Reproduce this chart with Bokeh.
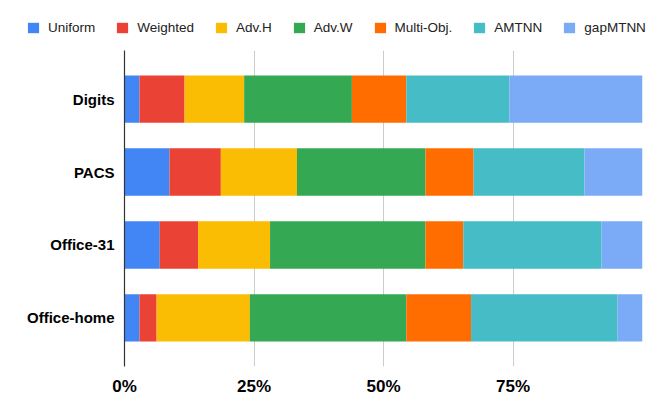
from bokeh.plotting import figure
from bokeh.models import ColumnDataSource, Range1d, Legend, LegendItem, FixedTicker
from bokeh.embed import file_html
from bokeh.resources import INLINE

categories = ["Digits", "PACS", "Office-31", "Office-home"]
series = ["Uniform", "Weighted", "Adv.H", "Adv.W", "Multi-Obj.", "AMTNN", "gapMTNN"]
colors = ["#4285F4", "#EA4335", "#FBBC04", "#34A853", "#FF6D01", "#46BDC6", "#7BAAF7"]

uniform = [2.9, 8.7, 6.8, 2.9]
weighted = [8.7, 9.9, 7.4, 3.3]
adv_h = [11.5, 14.7, 13.9, 18.0]
adv_w = [20.8, 24.8, 30.0, 30.2]
multi_obj = [10.5, 9.3, 7.3, 12.5]
amtnn = [19.9, 21.4, 26.7, 28.3]
gapmtnn = [25.7, 11.2, 7.9, 4.8]

x_ticks = [0, 25, 50, 75, 100]
x_tick_labels = ["0%", "25%", "50%", "75%", ""]

values = [uniform, weighted, adv_h, adv_w, multi_obj, amtnn, gapmtnn]
ypos = list(range(len(categories) - 1, -1, -1))
data = {"y": ypos}
for name, vals in zip(series, values):
    data[name] = vals
source = ColumnDataSource(data)

# legend strip (separate root so its frame spans the full width)
lg = figure(width=656, height=42, output_backend="svg", toolbar_location=None,
            x_range=Range1d(0, 1), y_range=Range1d(0, 1),
            min_border_left=0, min_border_right=0, min_border_top=0, min_border_bottom=0)
lg.axis.visible = False
lg.grid.visible = False
lg.outline_line_color = None
swatch = ColumnDataSource({"y": [0.5], "l": [0.0], "r": [0.0]})
legend_renderers = [lg.hbar(y="y", left="l", right="r", height=0.5, fill_color=c,
                            line_color=None, source=swatch) for c in colors]
items = [LegendItem(label=s, renderers=[r]) for s, r in zip(series, legend_renderers)]
legend = Legend(items=items, orientation="horizontal", location=(26, 7),
                glyph_width=14, glyph_height=13, label_standoff=8, spacing=20,
                padding=0, margin=0, border_line_color=None, background_fill_alpha=0,
                label_text_font="Liberation Sans", label_text_font_size="13.5px",
                label_text_color="#222222", label_height=13)
lg.add_layout(legend, "center")

# main chart
p = figure(width=656, height=366, output_backend="svg", toolbar_location=None,
           x_range=Range1d(0, 100), y_range=Range1d(-0.667, 3.667),
           min_border_left=124, min_border_right=14, min_border_top=8, min_border_bottom=42)

p.hbar_stack(series, y="y", height=0.65, color=colors, source=source, line_color=None)

p.outline_line_color = None
p.background_fill_color = "white"

p.xaxis.ticker = FixedTicker(ticks=x_ticks)
p.xaxis.major_label_overrides = {t: l for t, l in zip(x_ticks, x_tick_labels)}
p.xaxis.axis_line_color = None
p.xaxis.major_tick_line_color = None
p.xaxis.minor_tick_line_color = None
p.xaxis.major_label_text_font = "Liberation Sans"
p.xaxis.major_label_text_font_style = "bold"
p.xaxis.major_label_text_font_size = "17px"
p.xaxis.major_label_text_color = "#000000"
p.xaxis.major_label_standoff = 4

p.yaxis.ticker = FixedTicker(ticks=ypos)
p.yaxis.major_label_overrides = {y: c for y, c in zip(ypos, categories)}
p.yaxis.axis_line_color = "#333333"
p.yaxis.axis_line_width = 1.2
p.yaxis.major_tick_line_color = None
p.yaxis.minor_tick_line_color = None
p.yaxis.major_label_text_font = "Liberation Sans"
p.yaxis.major_label_text_font_style = "bold"
p.yaxis.major_label_text_font_size = "15px"
p.yaxis.major_label_text_color = "#000000"
p.yaxis.major_label_standoff = 4

p.xgrid.grid_line_color = "#cccccc"
p.ygrid.grid_line_color = None

open("out.html", "w").write(file_html([lg, p], INLINE))
